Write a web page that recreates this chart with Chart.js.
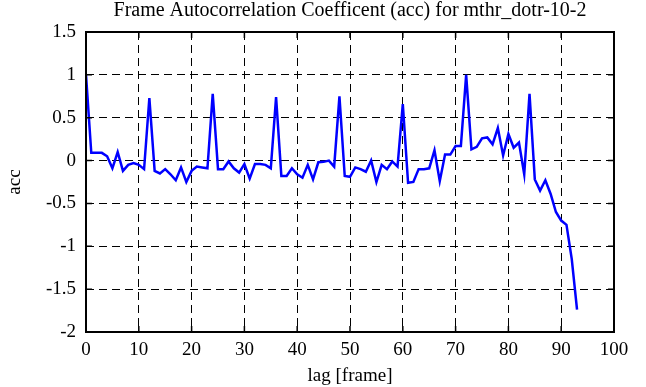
<!DOCTYPE html>
<html>
<head>
<meta charset="utf-8">
<script src="https://cdn.jsdelivr.net/npm/chart.js@4/dist/chart.umd.min.js"></script>
<style>
  html, body { margin: 0; padding: 0; background: #fff; }
  #acc-chart { display: block; }
</style>
</head>
<body>
<canvas id="acc-chart" width="646" height="387"></canvas>
<script>
// Frame autocorrelation for mthr_dotr-10-2

const LAGS = [
    0, 1, 2, 3, 4, 5, 6, 7, 8, 9,
    10, 11, 12, 13, 14, 15, 16, 17, 18, 19,
    20, 21, 22, 23, 24, 25, 26, 27, 28, 29,
    30, 31, 32, 33, 34, 35, 36, 37, 38, 39,
    40, 41, 42, 43, 44, 45, 46, 47, 48, 49,
    50, 51, 52, 53, 54, 55, 56, 57, 58, 59,
    60, 61, 62, 63, 64, 65, 66, 67, 68, 69,
    70, 71, 72, 73, 74, 75, 76, 77, 78, 79,
    80, 81, 82, 83, 84, 85, 86, 87, 88, 89,
    90, 91, 92, 93
];

const ACC = [
    1.0, 0.09, 0.09, 0.09, 0.05, -0.09, 0.10, -0.12, -0.05, -0.03,
    -0.05, -0.10, 0.73, -0.12, -0.15, -0.10, -0.16, -0.23, -0.08, -0.25,
    -0.12, -0.07, -0.08, -0.09, 0.78, -0.10, -0.10, -0.01, -0.09, -0.14,
    -0.04, -0.21, -0.04, -0.04, -0.05, -0.09, 0.74, -0.18, -0.18, -0.09,
    -0.16, -0.20, -0.05, -0.22, -0.02, -0.015, 0.0, -0.07, 0.75, -0.18,
    -0.19, -0.08, -0.10, -0.13, 0.0, -0.25, -0.05, -0.10, -0.01, -0.07,
    0.66, -0.26, -0.25, -0.10, -0.10, -0.09, 0.12, -0.24, 0.07, 0.07,
    0.17, 0.17, 1.0, 0.13, 0.16, 0.26, 0.27, 0.19, 0.38, 0.06,
    0.31, 0.15, 0.21, -0.16, 0.78, -0.22, -0.35, -0.23, -0.39, -0.60,
    -0.70, -0.75, -1.15, -1.74
];

const X_TICKS = [0, 10, 20, 30, 40, 50, 60, 70, 80, 90, 100];
const Y_TICKS = [-2, -1.5, -1, -0.5, 0, 0.5, 1, 1.5];

const TITLE = 'Frame Autocorrelation Coefficent (acc) for mthr_dotr-10-2';
const FONT = 'Liberation Serif';
const FONT_SIZE = 19;

// frame box, inward tick marks on all four sides, title centred over plot
const frameTicks = {
    id: 'frameTicks',
    afterDraw(chart) {
        const { ctx, chartArea: a, scales } = chart;
        const len = 6;
        ctx.save();
        ctx.strokeStyle = '#000';
        ctx.lineWidth = 1.5;
        ctx.beginPath();
        X_TICKS.forEach(v => {
            const px = scales.x.getPixelForValue(v);
            ctx.moveTo(px, a.bottom); ctx.lineTo(px, a.bottom - len);
            ctx.moveTo(px, a.top); ctx.lineTo(px, a.top + len);
        });
        Y_TICKS.forEach(v => {
            const py = scales.y.getPixelForValue(v);
            ctx.moveTo(a.left, py); ctx.lineTo(a.left + len, py);
            ctx.moveTo(a.right, py); ctx.lineTo(a.right - len, py);
        });
        ctx.stroke();
        ctx.lineWidth = 2;
        ctx.strokeRect(a.left, a.top, a.right - a.left, a.bottom - a.top);

        ctx.fillStyle = '#000';
        ctx.font = '20px "' + FONT + '"';
        ctx.textAlign = 'center';
        ctx.textBaseline = 'alphabetic';
        ctx.fillText(TITLE, (a.left + a.right) / 2, 16);
        ctx.restore();
    }
};

new Chart(document.getElementById('acc-chart'), {
    type: 'line',
    data: {
        datasets: [{
            data: LAGS.map((lag, i) => ({ x: lag, y: ACC[i] })),
            borderColor: '#0000ff',
            borderWidth: 2.5,
            pointRadius: 0,
            tension: 0,
            fill: false
        }]
    },
    options: {
        responsive: false,
        animation: false,
        layout: { padding: { left: 0, right: 32, top: 32, bottom: 0 } },
        plugins: {
            legend: { display: false },
            tooltip: { enabled: false },
            title: { display: false }
        },
        scales: {
            x: {
                type: 'linear',
                min: 0,
                max: 100,
                afterBuildTicks: s => { s.ticks = X_TICKS.map(v => ({ value: v })); },
                afterFit: s => { s.height = 55; },
                grid: { color: '#000', lineWidth: 1, drawTicks: false },
                border: { display: false, dash: [8, 5] },
                ticks: {
                    color: '#000',
                    padding: 7,
                    maxRotation: 0,
                    font: { family: FONT, size: FONT_SIZE }
                },
                title: {
                    display: true,
                    text: 'lag [frame]',
                    color: '#000',
                    font: { family: FONT, size: FONT_SIZE },
                    padding: { top: 0, bottom: 0 }
                }
            },
            y: {
                type: 'linear',
                min: -2,
                max: 1.5,
                afterBuildTicks: s => { s.ticks = Y_TICKS.map(v => ({ value: v })); },
                afterFit: s => { s.width = 86; },
                grid: { color: '#000', lineWidth: 1, drawTicks: false },
                border: { display: false, dash: [8, 5] },
                ticks: {
                    color: '#000',
                    padding: 10,
                    callback: v => String(v),
                    font: { family: FONT, size: FONT_SIZE }
                },
                title: {
                    display: true,
                    text: 'acc',
                    color: '#000',
                    font: { family: FONT, size: FONT_SIZE },
                    padding: { top: 4, bottom: 0 }
                }
            }
        }
    },
    plugins: [frameTicks]
});
</script>
</body>
</html>
